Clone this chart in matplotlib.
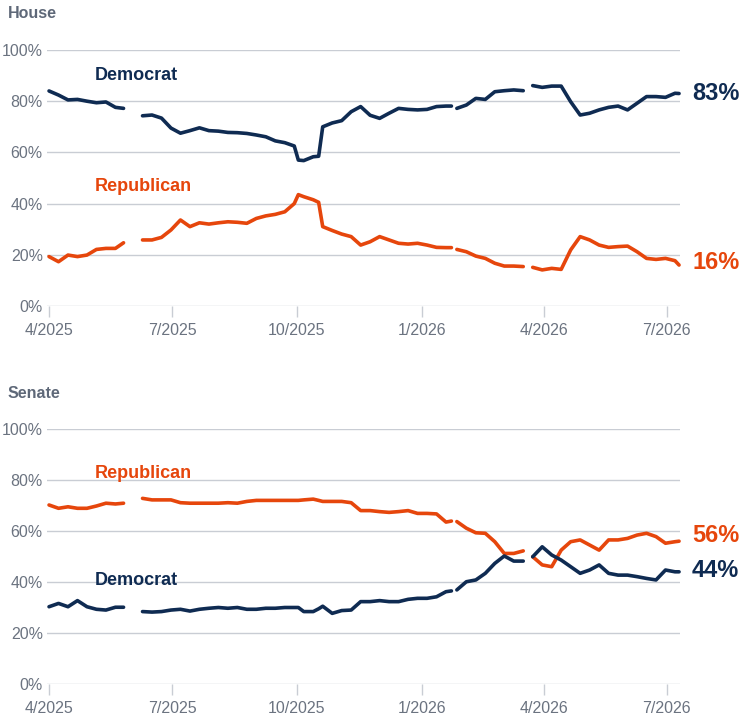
import matplotlib
matplotlib.use("Agg")
import matplotlib.pyplot as plt
import matplotlib.dates as mdates
from matplotlib import font_manager
import numpy as np
import pandas as pd

nan = np.nan

dates = [
    "2025-04-01", "2025-04-08", "2025-04-15", "2025-04-22", "2025-04-29", "2025-05-06", "2025-05-13", "2025-05-20", "2025-05-26", "2025-06-02",
    "2025-06-09", "2025-06-16", "2025-06-23", "2025-06-30", "2025-07-07", "2025-07-14", "2025-07-21", "2025-07-28", "2025-08-04", "2025-08-11",
    "2025-08-18", "2025-08-25", "2025-09-01", "2025-09-08", "2025-09-15", "2025-09-22", "2025-09-29", "2025-10-02", "2025-10-06", "2025-10-13",
    "2025-10-17", "2025-10-20", "2025-10-27", "2025-11-03", "2025-11-10", "2025-11-17", "2025-11-24", "2025-12-01", "2025-12-08", "2025-12-15",
    "2025-12-22", "2025-12-29", "2026-01-05", "2026-01-12", "2026-01-19", "2026-01-23", "2026-01-25", "2026-01-27", "2026-02-03", "2026-02-10",
    "2026-02-17", "2026-02-24", "2026-03-03", "2026-03-10", "2026-03-17", "2026-03-20", "2026-03-24", "2026-03-31", "2026-04-07", "2026-04-14",
    "2026-04-21", "2026-04-28", "2026-05-05", "2026-05-12", "2026-05-19", "2026-05-26", "2026-06-02", "2026-06-09", "2026-06-16", "2026-06-23",
    "2026-06-30", "2026-07-07", "2026-07-10",
]

house_dem = [
    84.0, 82.4, 80.5, 80.7, 80.0, 79.4, 79.7, 77.6, 77.2, nan,
    74.3, 74.6, 73.4, 69.5, 67.5, 68.5, 69.6, 68.5, 68.3, 67.8,
    67.7, 67.4, 66.8, 66.1, 64.5, 63.8, 62.5, 57.0, 56.8, 58.3,
    58.5, 70.0, 71.5, 72.4, 75.9, 77.9, 74.5, 73.3, 75.3, 77.2,
    76.8, 76.6, 76.8, 77.9, 78.1, 78.1, nan, 77.2, 78.5, 81.1,
    80.7, 83.7, 84.1, 84.4, 84.1, nan, 86.1, 85.4, 85.9, 85.9,
    79.8, 74.6, 75.3, 76.6, 77.6, 78.1, 76.6, 79.2, 81.8, 81.8,
    81.5, 83.1, 83.0,
]

house_rep = [
    19.3, 17.3, 19.9, 19.3, 19.9, 22.1, 22.5, 22.5, 24.7, nan,
    25.8, 25.8, 26.8, 29.7, 33.6, 31.0, 32.5, 32.0, 32.5, 32.9,
    32.7, 32.3, 34.2, 35.2, 35.8, 36.8, 40.0, 43.5, 42.7, 41.5,
    40.5, 31.0, 29.5, 28.1, 27.1, 23.8, 25.1, 27.1, 25.8, 24.5,
    24.2, 24.5, 23.8, 22.9, 22.8, 22.8, nan, 22.1, 21.2, 19.5,
    18.6, 16.7, 15.6, 15.6, 15.4, nan, 15.1, 14.1, 14.7, 14.3,
    21.9, 27.1, 25.8, 23.8, 22.9, 23.2, 23.4, 21.2, 18.6, 18.2,
    18.6, 17.7, 16.0,
]

senate_rep = [
    70.2, 68.9, 69.5, 68.9, 68.9, 69.8, 70.9, 70.6, 70.9, nan,
    72.8, 72.2, 72.2, 72.2, 71.1, 70.9, 70.9, 70.9, 70.9, 71.1,
    70.9, 71.6, 72.0, 72.0, 72.0, 72.0, 72.0, 72.0, 72.2, 72.5,
    72.0, 71.6, 71.6, 71.6, 71.1, 68.0, 68.0, 67.6, 67.3, 67.6,
    68.0, 66.9, 66.9, 66.7, 63.5, 63.9, nan, 63.7, 61.1, 59.3,
    59.1, 55.8, 51.2, 51.2, 52.2, nan, 49.9, 46.7, 46.0, 52.5,
    55.8, 56.5, 54.5, 52.5, 56.5, 56.5, 57.1, 58.4, 59.1, 57.8,
    55.2, 55.8, 56.0,
]

senate_dem = [
    30.3, 31.6, 30.3, 32.7, 30.3, 29.3, 29.0, 30.1, 30.1, nan,
    28.4, 28.2, 28.4, 29.0, 29.3, 28.6, 29.3, 29.7, 30.0, 29.7,
    30.0, 29.3, 29.3, 29.7, 29.7, 30.0, 30.0, 30.0, 28.4, 28.4,
    29.5, 30.5, 27.7, 28.8, 29.0, 32.3, 32.3, 32.7, 32.3, 32.3,
    33.2, 33.6, 33.6, 34.2, 36.2, 36.5, nan, 36.9, 40.1, 40.8,
    43.4, 47.3, 50.2, 48.2, 48.2, nan, 49.9, 53.8, 50.6, 48.6,
    46.0, 43.4, 44.7, 46.7, 43.4, 42.7, 42.7, 42.1, 41.4, 40.8,
    44.7, 44.0, 44.0,
]

x_ticks = ["2025-04-01", "2025-07-01", "2025-10-01", "2026-01-01", "2026-04-01", "2026-07-01"]
x_tick_labels = ["4/2025", "7/2025", "10/2025", "1/2026", "4/2026", "7/2026"]
y_ticks = [0, 20, 40, 60, 80, 100]
y_tick_labels = ["0%", "20%", "40%", "60%", "80%", "100%"]

DEM = "#0f2b52"
REP = "#e6460c"
GRID = "#c9cdd4"
TICK_TXT = "#6b7380"
TITLE_TXT = "#5e6878"

avail = {f.name for f in font_manager.fontManager.ttflist}
fam = "Liberation Sans Narrow" if "Liberation Sans Narrow" in avail else "Liberation Sans"
plt.rcParams["font.family"] = [fam, "DejaVu Sans"]

x = pd.to_datetime(dates)

W, H = 749, 728
fig = plt.figure(figsize=(W / 100, H / 100), dpi=100)

def px_ax(left, right, top, bottom):
    return fig.add_axes([left / W, 1 - bottom / H, (right - left) / W, (bottom - top) / H])

panels = [
    dict(title="House", ttl_y=14, box=(47, 680, 50, 306),
         series=[(house_dem, DEM, "Democrat", 90.2, 83.2), (house_rep, REP, "Republican", 46.5, 16.8)]),
    dict(title="Senate", ttl_y=393, box=(47, 680, 429, 684),
         series=[(senate_rep, REP, "Republican", 82.4, 58.4), (senate_dem, DEM, "Democrat", 40.4, 44.7)]),
]

xmin = mdates.date2num(pd.Timestamp("2025-04-01")) - 1.5
xmax = mdates.date2num(pd.Timestamp("2026-04-01")) + 100.7

for p in panels:
    l, r, t, b = p["box"]
    ax = px_ax(l, r, t, b)
    ax.set_xlim(xmin, xmax)
    ax.set_ylim(0, 100)
    for s in ax.spines.values():
        s.set_visible(False)
    for yv in y_ticks:
        ax.axhline(yv, color=GRID, lw=1.0, zorder=1)
    ax.set_yticks(y_ticks)
    ax.set_yticklabels(y_tick_labels)
    ax.tick_params(axis="y", length=0, pad=3, labelsize=11.5, labelcolor=TICK_TXT)
    ax.set_xticks(mdates.date2num(pd.to_datetime(x_ticks)))
    ax.set_xticklabels(x_tick_labels)
    ax.tick_params(axis="x", length=8, width=1, color=GRID, pad=4, labelsize=11.5, labelcolor=TICK_TXT)
    for vals, col, name, ny, ly in p["series"]:
        ax.plot(x, vals, color=col, lw=2.6, solid_joinstyle="round", solid_capstyle="round", zorder=3, clip_on=False)
        ax.text(mdates.date2num(pd.Timestamp("2025-05-05")), ny, name, color=col,
                fontsize=13, fontweight="bold", va="center", ha="left")
        last = [v for v in vals if not np.isnan(v)][-1]
        ax.text(1.019, ly, f"{last:.0f}%", transform=ax.get_yaxis_transform(), color=col,
                fontsize=17, fontweight="bold", va="center", ha="left")
    fig.text(8 / W, 1 - p["ttl_y"] / H, p["title"], fontsize=11.5, fontweight="bold",
             color=TITLE_TXT, va="center", ha="left")

fig.savefig("out.png", dpi=100)
